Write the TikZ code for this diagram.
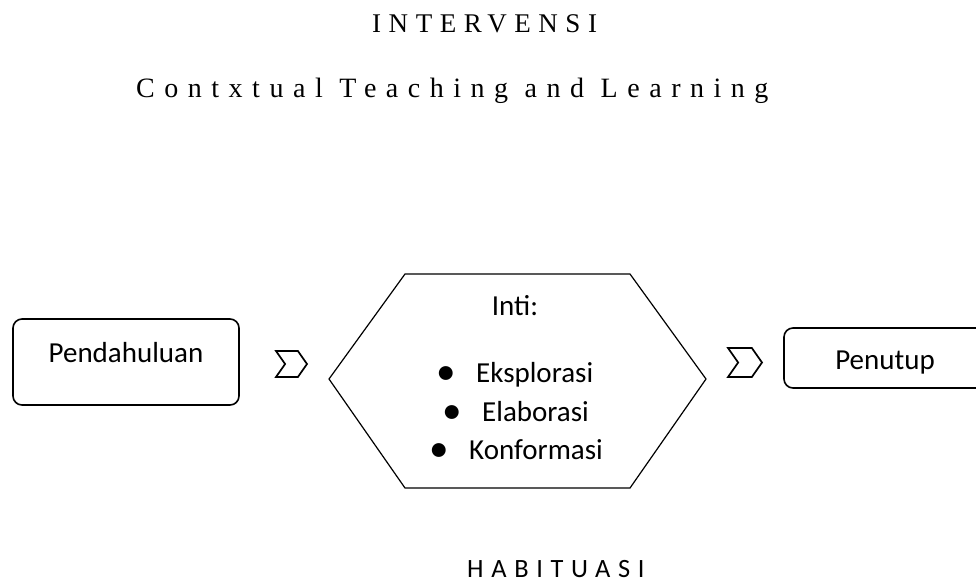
\documentclass[tikz,border=0pt]{standalone}
\usepackage{fontspec}
\setmainfont{Carlito}
\newfontfamily\judulfont[LetterSpace=28]{Liberation Serif}
\newfontfamily\subjudulfont[LetterSpace=34]{Liberation Serif}
\newfontfamily\jarangfont[LetterSpace=29]{Carlito}
\usetikzlibrary{shapes.symbols}
\newcommand{\butir}[1]{\makebox[0pt]{\raisebox{-2.5pt}{\scalebox{1.35}{\textbullet}}}\hspace{30pt}#1}

\begin{document}
\begin{tikzpicture}[x=1pt,y=-1pt,
    kotak/.style={draw,line width=1.6pt,rounded corners=9pt,inner sep=0pt},
    panah/.style={draw,line width=1.7pt,signal,signal to=east,signal from=west,signal pointer angle=110,inner sep=0pt},
    teks/.style={font=\fontsize{29}{35}\selectfont,inner sep=0pt}]
    \useasboundingbox (0,0) rectangle (976,582);
    \clip (0,0) rectangle (976,582);
    \node[anchor=base west,inner sep=0pt,font=\judulfont\fontsize{27}{30}\selectfont] (judul) at (372,32) {INTERVENSI};
    \node[anchor=base west,inner sep=0pt,font=\subjudulfont\fontsize{28}{30}\selectfont] (subjudul) at (136,97) {Contxtual Teaching and Learning};
    \node[kotak,minimum width=226pt,minimum height=86pt] (pendahuluan) at (126,362) {};
    \node[teks,anchor=base] (tekspendahuluan) at (126,362) {Pendahuluan};
    \node[panah,minimum width=31pt,minimum height=26pt] (panah1) at (291.5,364) {};
    \draw[line width=1.2pt] (329,379) -- (405,274) -- (630,274) -- (706,379) -- (630,488) -- (405,488) -- cycle;
    \node[teks,anchor=base] (inti) at (515,315) {Inti:};
    \node[teks,anchor=base west] (eksplorasi) at (446,382) {\butir{Eksplorasi}};
    \node[teks,anchor=base west] (elaborasi) at (452,421) {\butir{Elaborasi}};
    \node[teks,anchor=base west] (konformasi) at (439,459) {\butir{Konformasi}};
    \node[panah,minimum width=34pt,minimum height=29pt] (panah2) at (745,362.5) {};
    \node[kotak,minimum width=202pt,minimum height=60pt] (penutup) at (885,358) {};
    \node[teks,anchor=base] (tekspenutup) at (885,369) {Penutup};
    \node[anchor=base west,inner sep=0pt,font=\jarangfont\fontsize{26.4}{30}\selectfont] (habituasi) at (467,577) {HABITUASI};
\end{tikzpicture}
\end{document}
